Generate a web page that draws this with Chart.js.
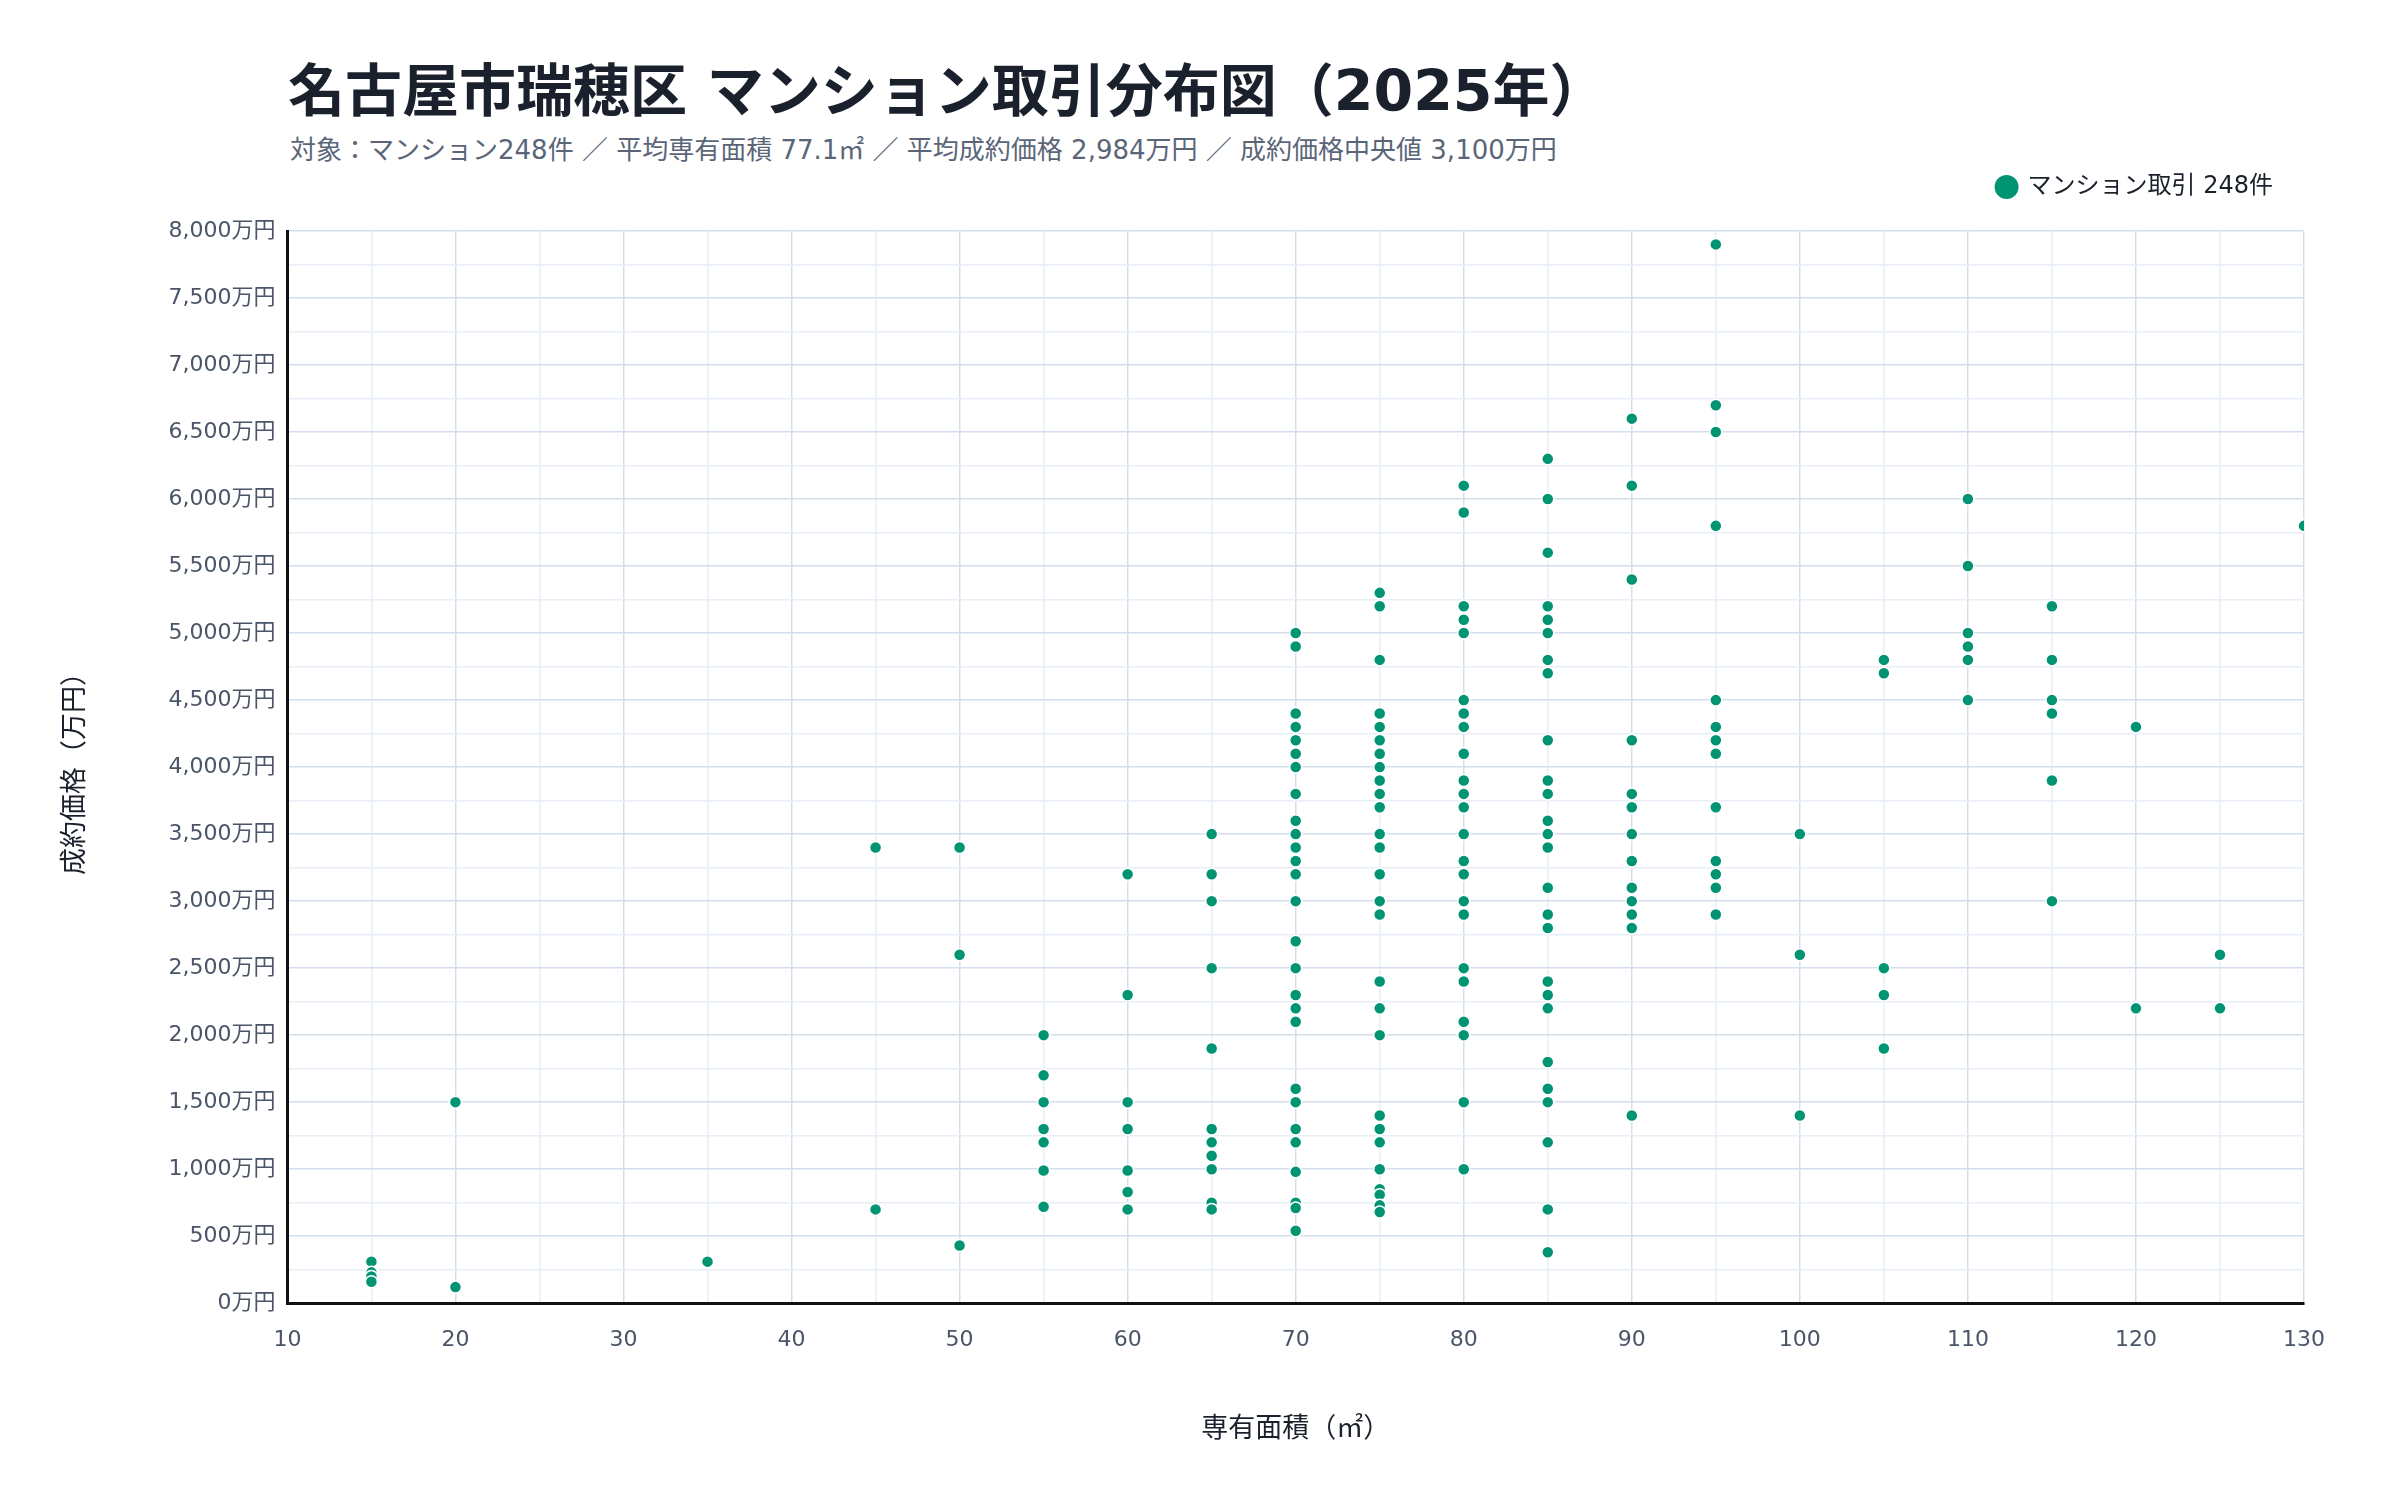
<!DOCTYPE html>
<html>
<head>
<meta charset="utf-8">
<script src="https://cdn.jsdelivr.net/npm/chart.js@4/dist/chart.umd.min.js"></script>
<style>
  html, body { margin: 0; padding: 0; background: #fff; }
  body { width: 2400px; height: 1500px; position: relative; font-family: "DejaVu Sans", "Noto Sans CJK JP", sans-serif; }
  #title { position: absolute; left: 288px; top: 45px; font-size: 57px; font-weight: 700; color: #1a202c; }
  #subtitle { position: absolute; left: 290px; top: 129px; font-size: 26px; color: #5a6678; }
  #wrap { position: absolute; left: 0; top: 0; width: 2400px; height: 1500px; }
</style>
</head>
<body>
<div id="title">名古屋市瑞穂区 マンション取引分布図（2025年）</div>
<div id="subtitle">対象：マンション248件 ／ 平均専有面積 77.1㎡ ／ 平均成約価格 2,984万円 ／ 成約価格中央値 3,100万円</div>
<div id="wrap"><canvas id="c"></canvas></div>
<script>
// 専有面積 (㎡) ごとの成約価格 (万円)
const areas = [15, 20, 35, 45, 50, 55, 60, 65, 70, 75, 80, 85, 90, 95, 100, 105, 110, 115, 120, 125, 130];
const prices = [
  [310, 230, 200, 160],
  [1500, 120],
  [310],
  [3400, 700],
  [3400, 2600, 430],
  [2000, 1700, 1500, 1300, 1200, 990, 720],
  [3200, 2300, 1500, 1300, 990, 830, 700],
  [3500, 3200, 3000, 2500, 1900, 1300, 1200, 1100, 1000, 750, 700],
  [5000, 4900, 4400, 4300, 4200, 4100, 4000, 3800, 3600, 3500, 3400, 3300, 3200, 3000, 2700,
   2500, 2300, 2200, 2100, 1600, 1500, 1300, 1200, 980, 750, 710, 540],
  [5300, 5200, 4800, 4400, 4300, 4200, 4100, 4000, 3900, 3800, 3700, 3500, 3400, 3200, 3000, 2900,
   2400, 2200, 2000, 1400, 1300, 1200, 1000, 850, 810, 730, 680],
  [6100, 5900, 5200, 5100, 5000, 4500, 4400, 4300, 4100, 3900, 3800, 3700, 3500, 3300, 3200, 3000, 2900,
   2500, 2400, 2100, 2000, 1500, 1000],
  [6300, 6000, 5600, 5200, 5100, 5000, 4800, 4700, 4200, 3900, 3800, 3600, 3500, 3400, 3100, 2900, 2800,
   2400, 2300, 2200, 1800, 1600, 1500, 1200, 700, 380],
  [6600, 6100, 5400, 4200, 3800, 3700, 3500, 3300, 3100, 3000, 2900, 2800, 1400],
  [7900, 6700, 6500, 5800, 4500, 4300, 4200, 4100, 3700, 3300, 3200, 3100, 2900],
  [3500, 2600, 1400],
  [4800, 4700, 2500, 2300, 1900],
  [6000, 5500, 5000, 4900, 4800, 4500],
  [5200, 4800, 4500, 4400, 3900, 3000],
  [4300, 2200],
  [2600, 2200],
  [5800]
];

const points = [];
areas.forEach((a, i) => prices[i].forEach(p => points.push({ x: a, y: p })));

const fontFamily = '"DejaVu Sans", "Noto Sans CJK JP", sans-serif';
const tickFont = { family: fontFamily, size: 22 };
const tickColor = '#4a5568';
const axisTitleFont = { family: fontFamily, size: 27 };

// leave a gap between the legend and the plot area
const legendGap = {
  id: 'legendGap',
  beforeInit(chart) {
    const fit = chart.legend.fit;
    chart.legend.fit = function () {
      fit.call(this);
      this.height += 22;
    };
  }
};

new Chart(document.getElementById('c'), {
  type: 'scatter',
  data: {
    datasets: [{
      label: 'マンション取引 248件',
      data: points,
      backgroundColor: '#009473',
      borderColor: '#ffffff',
      borderWidth: 1.5,
      pointRadius: 6,
      pointHoverRadius: 6
    }]
  },
  plugins: [legendGap],
  options: {
    responsive: true,
    maintainAspectRatio: false,
    animation: false,
    layout: { padding: { top: 144, right: 96, left: 56, bottom: 50 } },
    plugins: {
      legend: {
        position: 'top',
        align: 'end',
        labels: {
          usePointStyle: true,
          pointStyle: 'circle',
          boxWidth: 18,
          boxHeight: 18,
          color: '#1a202c',
          font: { family: fontFamily, size: 24 },
          padding: 31
        }
      },
      tooltip: { enabled: false }
    },
    scales: {
      x: {
        type: 'linear',
        min: 10,
        max: 130,
        ticks: {
          stepSize: 5,
          color: tickColor,
          font: tickFont,
          padding: 24,
          callback: v => (v % 10 === 0 ? v : '')
        },
        grid: {
          color: ctx => (ctx.tick && ctx.tick.value % 10 === 0 ? '#d5deec' : '#e8eef6'),
          lineWidth: 1.5,
          drawTicks: false
        },
        border: { color: '#111111', width: 3 },
        title: { display: true, text: '専有面積（㎡）', color: '#1a202c', font: axisTitleFont, padding: { top: 36 } }
      },
      y: {
        min: 0,
        max: 8000,
        ticks: {
          stepSize: 250,
          color: tickColor,
          font: tickFont,
          padding: 12,
          callback: v => (v % 500 === 0 ? v.toLocaleString() + '万円' : '')
        },
        grid: {
          color: ctx => (ctx.tick && ctx.tick.value % 500 === 0 ? '#d5deec' : '#e8eef6'),
          lineWidth: 1.5,
          drawTicks: false
        },
        border: { color: '#111111', width: 3 },
        title: { display: true, text: '成約価格（万円）', color: '#1a202c', font: axisTitleFont, padding: { bottom: 64 } }
      }
    }
  }
});
</script>
</body>
</html>
